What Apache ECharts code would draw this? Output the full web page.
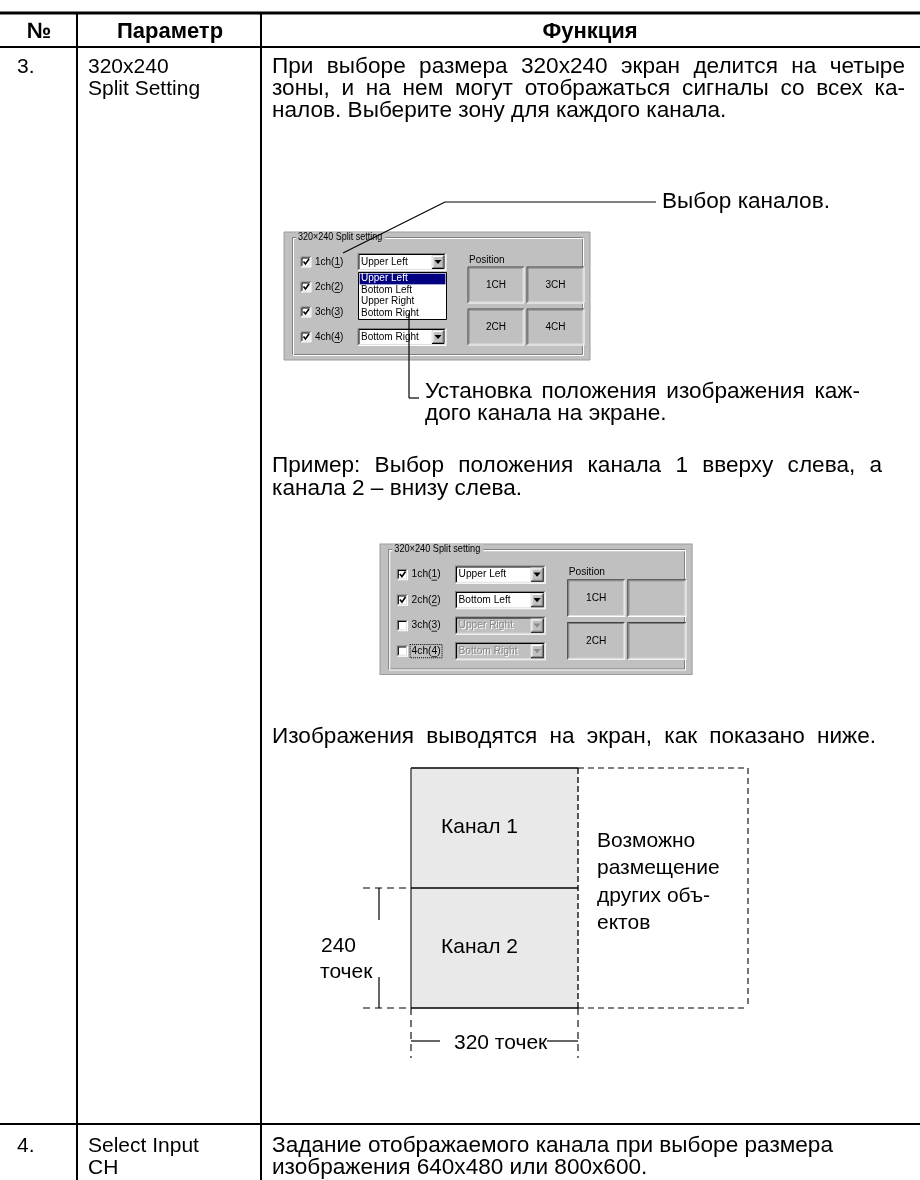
<!DOCTYPE html>
<html><head><meta charset="utf-8">
<script src="https://cdn.jsdelivr.net/npm/echarts@6/dist/echarts.min.js"></script>
<style>html,body{margin:0;padding:0;background:#fff}#c{width:920px;height:1180px}</style>
</head><body><div id="c"></div>
<script>
// ---------- content (texts) ----------
const headers = ['№', 'Параметр', 'Функция'];
const rowNumbers = ['3.', '4.'];
const row3Param = ['320x240', 'Split Setting'];
const row4Param = ['Select Input', 'CH'];
const row3Intro = ['При выборе размера 320x240 экран делится на четыре',
                   'зоны, и на нем могут отображаться сигналы со всех ка-',
                   'налов. Выберите зону для каждого канала.'];
const calloutChannels = 'Выбор каналов.';
const calloutPosition = ['Установка положения изображения каж-', 'дого канала на экране.'];
const exampleText = ['Пример: Выбор положения канала 1 вверху слева, а', 'канала 2 – внизу слева.'];
const outputText = 'Изображения выводятся на экран, как показано ниже.';
const row4Text = ['Задание отображаемого канала при выборе размера', 'изображения 640x480 или 800x600.'];
const dialogTitle = '320×240 Split setting';
const channelNames = ['1ch', '2ch', '3ch', '4ch'];
const channelKeys = ['1', '2', '3', '4'];
const positionOptions = ['Upper Left', 'Bottom Left', 'Upper Right', 'Bottom Right'];
const dialog1Checked = [true, true, true, true];
const dialog1Combos = ['Upper Left', null, null, 'Bottom Right'];
const dialog2Checked = [true, true, false, false];
const dialog2Combos = ['Upper Left', 'Bottom Left', 'Upper Right', 'Bottom Right'];
const dialog2Enabled = [true, true, false, false];
const positionLabel = 'Position';
const dialog1Cells = ['1CH', '3CH', '2CH', '4CH'];
const dialog2Cells = ['1CH', '', '2CH', ''];
const screenLabels = ['Канал 1', 'Канал 2'];
const freeAreaText = ['Возможно', 'размещение', 'других объ-', 'ектов'];
const heightLabel = ['240', 'точек'];
const widthLabel = '320 точек';

// ---------- helpers ----------
const FONT = '"Liberation Sans", Arial, Helvetica, sans-serif';
const mctx = document.createElement('canvas').getContext('2d');
function measure(t, size, weight) {
  mctx.font = (weight || 'normal') + ' ' + size + 'px ' + FONT;
  return mctx.measureText(t).width;
}
function txt(x, y, text, o) {
  o = o || {};
  return {
    type: 'text', x: x, y: y, silent: true, scaleX: o.sx || 1,
    style: {
      text: text, fontSize: o.size || 21, fontFamily: FONT, fontWeight: o.weight || 'normal',
      fill: o.fill || '#000', align: o.align || 'left', verticalAlign: 'middle',
      textAlign: o.align || 'left', textVerticalAlign: 'middle'
    }
  };
}
function justified(x, y, text, right, size) {
  const words = text.split(' ');
  const ws = words.map(w => measure(w, size));
  const total = ws.reduce((a, b) => a + b, 0);
  const gap = Math.max(measure(' ', size), (right - x - total) / (words.length - 1));
  let cx = x;
  return words.map((w, i) => { const e = txt(cx, y, w, {size: size}); cx += ws[i] + gap; return e; });
}
function line(x1, y1, x2, y2, o) {
  o = o || {};
  const st = {stroke: o.color || '#000', lineWidth: o.w || 1};
  if (o.dash) st.lineDash = o.dash;
  return {type: 'line', silent: true, shape: {x1: x1, y1: y1, x2: x2, y2: y2}, style: st};
}
function rect(x, y, w, h, o) {
  o = o || {};
  const st = {fill: o.fill || 'none', lineWidth: o.w || 1};
  if (o.stroke) st.stroke = o.stroke;
  if (o.dash) st.lineDash = o.dash;
  return {type: 'rect', silent: true, shape: {x: x, y: y, width: w, height: h}, style: st};
}
function poly(points, stroke, w) {
  return {type: 'polyline', silent: true, shape: {points: points}, style: {stroke: stroke, lineWidth: w || 1, fill: null}};
}
function bevel(x, y, w, h, tl, br) {
  return [poly([[x, y + h], [x, y], [x + w, y]], tl), poly([[x + w, y], [x + w, y + h], [x, y + h]], br)];
}
function sunken(x, y, w, h, fill) {
  return [rect(x, y, w, h, {fill: fill || '#fff'})]
    .concat(bevel(x, y, w, h, '#808080', '#fff'))
    .concat(bevel(x + 1, y + 1, w - 2, h - 2, '#000', '#dfdfdf'));
}
function raised(x, y, w, h) {
  return [rect(x, y, w, h, {fill: '#c0c0c0'})]
    .concat(bevel(x, y, w, h, '#dfdfdf', '#000'))
    .concat(bevel(x + 1, y + 1, w - 2, h - 2, '#fff', '#808080'));
}
function arrow(cx, cy, col) {
  return {type: 'polygon', silent: true, shape: {points: [[cx - 3.5, cy - 2], [cx + 3.5, cy - 2], [cx, cy + 2]]}, style: {fill: col}};
}

// ---------- dialog ----------
function dialog(ox, oy, s, checked, combos, enabled, cells, withList, focusLast) {
  const c = [];
  const rows = [30, 55, 80, 105];
  const DS = 10;
  c.push(rect(0, 0, 306, 128, {fill: '#c0c0c0', stroke: '#9c9c9c'}));
  c.push(rect(8.5, 5.5, 290, 117, {stroke: '#808080'}));
  c.push(rect(9.5, 6.5, 290, 117, {stroke: '#ffffff'}));
  const tw = measure(dialogTitle, DS) * 0.9;
  c.push(rect(12, 0, tw + 5, 11, {fill: '#c0c0c0'}));
  c.push(txt(14, 5.5, dialogTitle, {size: DS, sx: 0.9}));
  rows.forEach((ry, i) => {
    c.push.apply(c, sunken(17, ry - 5, 10, 10, '#fff'));
    if (checked[i]) c.push(poly([[19.5, ry - 0.5], [21.5, ry + 2], [25, ry - 3]], '#000', 1.6));
    const lx = 31;
    const label = channelNames[i] + '(' + channelKeys[i] + ')';
    c.push(txt(lx, ry, label, {size: DS}));
    const ux = lx + measure(channelNames[i] + '(', DS);
    c.push(line(ux, ry + 5.5, ux + measure(channelKeys[i], DS), ry + 5.5, {w: 0.8}));
    if (focusLast && i === 3) c.push(rect(lx - 1.5, ry - 6.5, measure(label, DS) + 3, 13, {stroke: '#000', dash: [1, 1]}));
    if (combos[i]) {
      const en = enabled ? enabled[i] : true;
      c.push.apply(c, sunken(74, ry - 8.5, 88, 17, en ? '#fff' : '#c0c0c0'));
      if (en) {
        c.push(txt(77, ry, combos[i], {size: DS}));
      } else {
        c.push(txt(78, ry + 1, combos[i], {size: DS, fill: '#ffffff'}));
        c.push(txt(77, ry, combos[i], {size: DS, fill: '#8a8a8a'}));
      }
      c.push.apply(c, raised(148, ry - 6.5, 12, 13));
      c.push(arrow(154, ry, en ? '#000' : '#8a8a8a'));
    }
  });
  if (withList) {
    c.push(rect(74.5, 40.5, 88, 47, {fill: '#fff', stroke: '#000'}));
    c.push(rect(75.5, 41.5, 86, 11, {fill: '#000080'}));
    c.push(rect(75.5, 41.5, 86, 11, {stroke: '#ffffff', dash: [1, 1], w: 0.6}));
    positionOptions.forEach((t, i) => c.push(txt(77, 46.5 + i * 11.5, t, {size: DS, fill: i === 0 ? '#fff' : '#000'})));
  }
  c.push(txt(185, 28, positionLabel, {size: DS}));
  const cellBoxes = [[184, 35, 56, 36], [243, 35, 57, 36], [184, 77, 56, 36], [243, 77, 57, 36]];
  cellBoxes.forEach((b, i) => {
    c.push(rect(b[0], b[1], b[2], b[3], {fill: '#c0c0c0'}));
    c.push.apply(c, bevel(b[0], b[1], b[2], b[3], '#404040', '#ffffff'));
    c.push.apply(c, bevel(b[0] + 1, b[1] + 1, b[2] - 2, b[3] - 2, '#808080', '#dfdfdf'));
    if (cells[i]) c.push(txt(b[0] + b[2] / 2, b[1] + b[3] / 2, cells[i], {size: DS, align: 'center'}));
  });
  return {type: 'group', x: ox, y: oy, scaleX: s, scaleY: s, children: c};
}

// ---------- page ----------
const els = [];
const FS = 22.6;   // function column text
const PS = 21;     // parameter column / diagram text
// table rules
els.push(line(0, 13, 920, 13, {w: 3}));
els.push(line(0, 47, 920, 47, {w: 2}));
els.push(line(0, 1124, 920, 1124, {w: 2}));
els.push(line(77, 13, 77, 1180, {w: 2}));
els.push(line(261, 13, 261, 1180, {w: 2}));
// header
els.push(txt(39, 32, headers[0], {weight: 'bold', align: 'center', size: 22}));
els.push(txt(170, 32, headers[1], {weight: 'bold', align: 'center', size: 22}));
els.push(txt(590, 32, headers[2], {weight: 'bold', align: 'center', size: 22}));
// row 3
els.push(txt(17, 67, rowNumbers[0], {size: PS}));
row3Param.forEach((t, i) => els.push(txt(88, 67 + i * 22, t, {size: PS})));
els.push.apply(els, justified(272, 67, row3Intro[0], 905, FS));
els.push.apply(els, justified(272, 89, row3Intro[1], 905, FS));
els.push(txt(272, 111, row3Intro[2], {size: FS}));
// dialogs
els.push(dialog(284, 232, 1.0, dialog1Checked, dialog1Combos, null, dialog1Cells, true, false));
els.push(dialog(380, 544, 1.02, dialog2Checked, dialog2Combos, dialog2Enabled, dialog2Cells, false, true));
// callout 1 (drawn over dialog)
els.push(line(343, 253, 445, 202, {w: 1.2}));
els.push(line(445, 202, 656, 202, {w: 1.2}));
els.push(txt(662, 202, calloutChannels, {size: FS}));
// callout 2
els.push(line(409, 313, 409, 398, {w: 1.2}));
els.push(line(409, 398, 419, 398, {w: 1.2}));
els.push.apply(els, justified(425, 392, calloutPosition[0], 860, FS));
els.push(txt(425, 414, calloutPosition[1], {size: FS}));
// example
els.push.apply(els, justified(272, 466, exampleText[0], 882, FS));
els.push(txt(272, 489, exampleText[1], {size: FS}));
els.push.apply(els, justified(272, 737, outputText, 876, FS));
// screen diagram
const L = 411, R = 578, T = 768, M = 888, B = 1008, R2 = 748;
els.push(rect(L, T, R - L, B - T, {fill: '#e9e9e9'}));
els.push(line(L, T, R, T, {w: 1.3}));
els.push(line(L, T, L, B, {w: 1.3, color: '#333'}));
els.push(line(L, B, R, B, {w: 1.3}));
els.push(line(L, M, R, M, {w: 1.3}));
els.push(line(R, T, R, B, {w: 1.3, dash: [6, 3]}));
els.push(line(R, T, R2, T, {w: 1.1, dash: [6, 4]}));
els.push(line(R2, T, R2, B, {w: 1.1, dash: [6, 4]}));
els.push(line(R, B, R2, B, {w: 1.1, dash: [6, 4]}));
els.push(line(363, M, L, M, {w: 1.1, dash: [7, 5]}));
els.push(line(363, B, L, B, {w: 1.1, dash: [7, 5]}));
els.push(line(379, M, 379, 920, {w: 1.2}));
els.push(line(379, 977, 379, B, {w: 1.2}));
els.push(line(L, B, L, 1058, {w: 1.1, dash: [7, 5]}));
els.push(line(R, B, R, 1058, {w: 1.1, dash: [7, 5]}));
els.push(line(L, 1041, 440, 1041, {w: 1.2}));
els.push(line(547, 1041, R, 1041, {w: 1.2}));
els.push(txt(441, 827, screenLabels[0], {size: PS}));
els.push(txt(441, 947, screenLabels[1], {size: PS}));
freeAreaText.forEach((t, i) => els.push(txt(597, 841 + i * 27.5, t, {size: PS})));
els.push(txt(321, 946, heightLabel[0], {size: PS}));
els.push(txt(320, 972, heightLabel[1], {size: PS}));
els.push(txt(454, 1043, widthLabel, {size: PS}));
// row 4
els.push(txt(17, 1146, rowNumbers[1], {size: PS}));
row4Param.forEach((t, i) => els.push(txt(88, 1146 + i * 22, t, {size: PS})));
row4Text.forEach((t, i) => els.push(txt(272, 1146 + i * 22, t, {size: FS})));

const chart = echarts.init(document.getElementById('c'), null, {renderer: 'canvas'});
chart.setOption({animation: false, backgroundColor: '#fff', graphic: {elements: els}});
</script>
</body></html>
